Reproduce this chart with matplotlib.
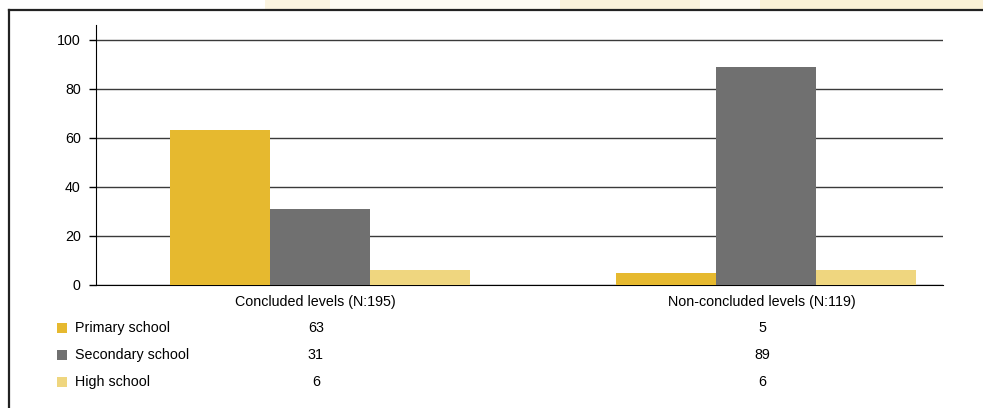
import matplotlib.pyplot as plt
from matplotlib.patches import Rectangle
from matplotlib.lines import Line2D
import numpy as np

plt.rcParams['font.family'] = ['Liberation Sans', 'DejaVu Sans']

categories = ['Concluded levels (N:195)', 'Non-concluded levels (N:119)']
series = ['Primary school', 'Secondary school', 'High school']
primary = [63, 5]
secondary = [31, 89]
high = [6, 6]
colors = ['#E6B92F', '#707070', '#EFD67F']

W, H = 983, 408
FS = 10.3
fig = plt.figure(figsize=(W / 100, H / 100), dpi=100)

# faint watermark band at the very top
for x0, x1, a in [(265, 330, 0.3), (330, 560, 0.1), (560, 700, 0.35),
                  (700, 760, 0.15), (760, 983, 0.4)]:
    fig.patches.append(Rectangle((x0 / W, 1 - 10 / H), (x1 - x0) / W, 10 / H,
                                 transform=fig.transFigure, color='#F3DC9A',
                                 alpha=a, lw=0, zorder=0))

# outer frame
fig.lines.append(Line2D([9 / W, 9 / W], [0, 1 - 10 / H], transform=fig.transFigure,
                        color='#222222', lw=1.6))
fig.lines.append(Line2D([9 / W, 1], [1 - 10 / H, 1 - 10 / H], transform=fig.transFigure,
                        color='#222222', lw=1.6))

ax = fig.add_axes([96 / W, 1 - 285 / H, (943 - 96) / W, (285 - 25) / H])
x = np.arange(len(categories))
bw = 0.224
for i, (vals, c) in enumerate(zip([primary, secondary, high], colors)):
    ax.bar(x + (i - 1) * bw, vals, width=bw, color=c, zorder=3, lw=0)

ax.set_xlim(-0.502, 1.397)
ax.set_ylim(0, 106)
ax.set_yticks(range(0, 101, 20))
ax.yaxis.grid(True, color='#3a3a3a', lw=1.0, zorder=1)
ax.set_xticks([])
for s in ['top', 'right']:
    ax.spines[s].set_visible(False)
ax.spines['left'].set_color('black')
ax.spines['bottom'].set_color('black')
ax.tick_params(axis='y', length=5, width=1, colors='black', labelsize=FS, pad=6)

# category labels
for xi, lab in zip(x, categories):
    ax.text(xi - 0.01, -0.065, lab, transform=ax.get_xaxis_transform(), ha='center',
            va='center', fontsize=FS)

# data table under the chart
rows_y = [328, 355, 382]
for name, vals, c, ry in zip(series, [primary, secondary, high], colors, rows_y):
    fy = 1 - ry / H
    fig.patches.append(Rectangle((57 / W, fy - 5 / H), 10 / W, 10 / H,
                                 transform=fig.transFigure, color=c, lw=0))
    fig.text(75 / W, fy, name, ha='left', va='center', fontsize=FS)
    for xi, v in zip(x, vals):
        xf = ax.transData.transform((xi, 0))[0] / W
        fig.text(xf - 4 / W, fy, str(v), ha='center', va='center', fontsize=FS)

fig.savefig('out.png', dpi=100)
